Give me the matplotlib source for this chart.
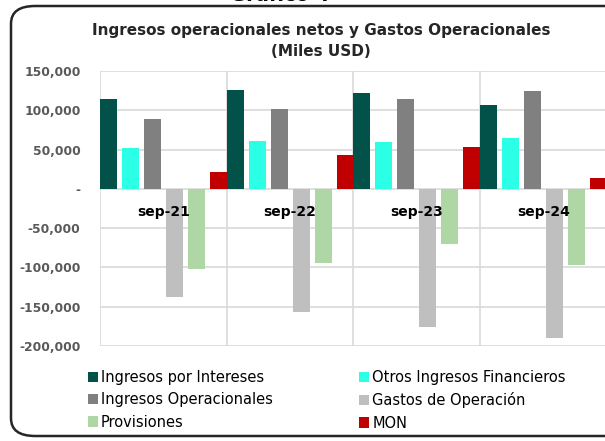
import numpy as np
import matplotlib
matplotlib.use('Agg')
import matplotlib.pyplot as plt
from matplotlib.patches import FancyBboxPatch, Patch
from matplotlib.ticker import FuncFormatter

# Data (Miles USD)
periodos = ['sep-21', 'sep-22', 'sep-23', 'sep-24']
ing_intereses = [114500, 126000, 121500, 107000]
otros_ing_fin = [52000, 61000, 60000, 64500]
ing_operacionales = [89000, 101500, 114500, 124000]
gastos_operacion = [-137000, -156500, -175500, -189500]
provisiones = [-101500, -94000, -70000, -97000]
mon = [21500, 43000, 53000, 13500]

series = [
    ('Ingresos por Intereses', ing_intereses, '#03524A'),
    ('Otros Ingresos Financieros', otros_ing_fin, '#2BFFE6'),
    ('Ingresos Operacionales', ing_operacionales, '#808080'),
    ('Gastos de Operación', gastos_operacion, '#BFBFBF'),
    ('Provisiones', provisiones, '#AED7A5'),
    ('MON', mon, '#C00000'),
]

plt.rcParams['font.family'] = ['DejaVu Sans']

fig = plt.figure(figsize=(6.05, 4.41), dpi=100)

# outer rounded frame (right side runs off the picture)
frame = FancyBboxPatch((11 / 605, 5 / 441), 640 / 605, 430 / 441,
                       boxstyle='round,pad=0,rounding_size=0.04',
                       transform=fig.transFigure, fill=False,
                       edgecolor='#262626', linewidth=1.8)
fig.patches.append(frame)

# chart number, mostly cut off at the top edge
fig.text(0.463, 1 - 1 / 441, 'Gráfico 4', ha='center', va='baseline',
         fontsize=14, fontweight='bold', color='#000000')
fig.text(0.531, 1 - 31 / 441, 'Ingresos operacionales netos y Gastos Operacionales',
         ha='center', va='center', fontsize=11, fontweight='bold', color='#262626')
fig.text(0.531, 1 - 51 / 441, '(Miles USD)',
         ha='center', va='center', fontsize=11, fontweight='bold', color='#262626')

ax = fig.add_axes([100 / 605, 1 - 346 / 441, 507 / 605, 275 / 441])

n = len(series)
w = 0.134
g = (1 - n * w) / (n - 1)
x = np.arange(len(periodos))
handles = []
for k, (name, vals, col) in enumerate(series):
    ax.bar(x + k * (w + g), vals, width=w, align='edge', color=col, zorder=3)
    handles.append(Patch(facecolor=col, label=name))

for i, p in enumerate(periodos):
    ax.text(i + 0.5, -30000, p, ha='center', va='center', fontsize=10,
            fontweight='bold', color='#000000', zorder=5)

ax.set_xlim(0, len(periodos))
ax.set_ylim(-200000, 150000)
ax.set_yticks(np.arange(-200000, 150001, 50000))
ax.set_xticks(np.arange(0, len(periodos) + 1))
ax.set_xticklabels([])


def fmt(v, pos):
    if v == 0:
        return '-'
    return f'{v:,.0f}'


ax.yaxis.set_major_formatter(FuncFormatter(fmt))
ax.tick_params(axis='both', length=0)
ax.tick_params(axis='y', pad=14, labelsize=8.9, labelcolor='#595959')
for lab in ax.get_yticklabels():
    lab.set_fontweight('bold')
ax.grid(True, color='#D9D9D9', linewidth=1.2, zorder=0)
for s in ax.spines.values():
    s.set_visible(False)

# legend order: row-major in the picture
order = [0, 2, 4, 1, 3, 5]
leg = fig.legend([handles[i] for i in order], [handles[i].get_label() for i in order],
                 ncol=2, loc='upper left', bbox_to_anchor=(88 / 605, 1 - 370 / 441),
                 frameon=False, fontsize=10.5, handlelength=0.7, handleheight=0.7,
                 handletextpad=0.2, columnspacing=5.9, labelspacing=0.5,
                 borderpad=0, borderaxespad=0)
for t in leg.get_texts():
    t.set_color('#000000')

fig.savefig('out.png', dpi=100)
